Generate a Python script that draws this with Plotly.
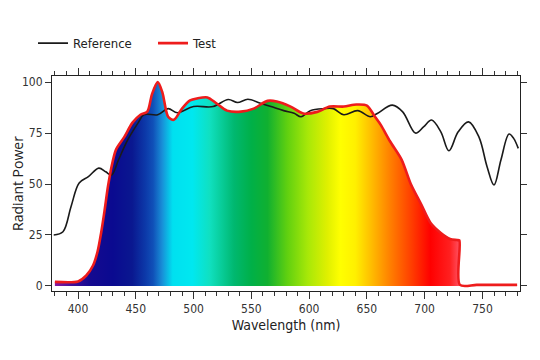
import plotly.graph_objects as go

# Test spectrum (red, filled with spectral gradient)
wl_test = [380, 400, 407, 413, 417, 420, 423, 426, 430, 433, 440, 447, 454, 460, 464, 469, 473, 478, 483, 490,
           497, 503, 512, 520, 529, 541, 552, 564, 572, 584, 595, 607, 618, 630, 641, 650, 657, 662, 670, 680,
           688, 697, 705, 714, 722, 728, 730, 730.5, 745, 765, 780]
test = [2, 2.2, 5, 10, 17, 26, 37, 49, 61, 67, 73, 80, 84, 85.5, 94, 100, 95, 83, 81.5, 87,
        91, 92, 92.5, 89.5, 86, 85.5, 87, 90.8, 90.5, 88, 84.6, 85.4, 88, 88, 89, 88.5, 83, 79, 71, 62,
        50, 40, 31, 26, 23, 22.5, 22.3, 0.5, 0.5, 0.5, 0.5]

# Reference spectrum (black line)
wl_ref = [379, 387, 394, 401, 409, 418, 424, 429, 435, 443, 452, 457, 469, 478, 486, 500, 517, 530, 538, 547,
          558, 567, 578, 587, 593, 601, 613, 621, 630, 642, 653, 659, 672, 681, 692, 699, 706, 714, 721, 729,
          738, 747, 754, 760, 766, 773, 777, 781]
ref = [25, 26.6, 39, 50.5, 53.6, 57.8, 56, 54.4, 61.8, 71.6, 80, 84, 84, 87, 85, 88, 88, 91.5, 90, 91.6,
       89.6, 88, 86, 84.7, 83, 86, 87, 87, 84, 86, 83, 84.6, 88.7, 85.4, 75, 78, 81.4, 75.6, 66.3, 75.6,
       80.5, 73, 58.5, 49.5, 61.8, 74.5, 72.4, 67.5]

# spectral colour stops (wavelength nm, colour)
spec_wl = [380, 395, 410, 430, 447, 458, 465, 473, 482, 499, 514, 535, 550, 564, 581, 599, 616, 627, 640,
           653, 670, 688, 705, 722, 730, 780]
spec_col = ["#8a1aa0", "#40109a", "#150a90", "#0a0a90", "#0a1890", "#0c38a8", "#1050b8", "#1890d8",
            "#00e0f0", "#00e8f0", "#10e0c0", "#00b870", "#00b048", "#10b030", "#60d010", "#a8e808",
            "#e0f000", "#ffff00", "#fff000", "#ffc000", "#ff8000", "#ff4000", "#ff0000", "#ff2020",
            "#ff5060", "#ff5060"]

x0, x1 = spec_wl[0], spec_wl[-1]
colorscale = [[(w - x0) / (x1 - x0), c] for w, c in zip(spec_wl, spec_col)]

fig = go.Figure()
# gradient fill under the test curve
fig.add_trace(go.Scatter(
    x=wl_test, y=test, mode="lines", showlegend=False, hoverinfo="skip",
    line=dict(color="rgba(0,0,0,0)", width=0, shape="spline", smoothing=0.8),
    fill="tozeroy",
    fillgradient=dict(type="horizontal", colorscale=colorscale, start=x0, stop=x1),
))
fig.add_trace(go.Scatter(
    x=wl_ref, y=ref, name="Reference", mode="lines",
    line=dict(color="#1a1a1a", width=1.6, shape="spline", smoothing=1.0),
))
fig.add_trace(go.Scatter(
    x=wl_test, y=test, name="Test", mode="lines",
    line=dict(color="#ee1c1c", width=2.6, shape="spline", smoothing=0.8),
))

cond = "DejaVu Sans Condensed, Liberation Sans Narrow, sans-serif"
tickfont = dict(family=cond, size=12, color="#333333")

fig.update_layout(
    width=532, height=352,
    margin=dict(l=44, r=20, t=68, b=69),
    paper_bgcolor="white", plot_bgcolor="white",
    showlegend=True,
    legend=dict(orientation="h", xref="container", x=0.047, xanchor="left",
                yref="container", y=0.90, yanchor="middle",
                font=dict(family=cond, size=13, color="#222222"),
                entrywidth=75, entrywidthmode="pixels", bgcolor="rgba(0,0,0,0)"),
    xaxis=dict(
        range=[377.5, 782.5], dtick=50, tick0=400, automargin=False,
        ticks="outside", ticklen=7, tickcolor="#333", tickwidth=1,
        minor=dict(dtick=10, ticks="outside", ticklen=4, tickcolor="#333", showgrid=False),
        showline=True, linecolor="#222", linewidth=1, mirror="ticks",
        showgrid=False, zeroline=False, tickfont=tickfont,
        title=dict(text="Wavelength (nm)", standoff=4,
                   font=dict(family=cond, size=14, color="#222222")),
    ),
    yaxis=dict(
        range=[-2.5, 103], dtick=25, tick0=0, automargin=False,
        ticks="outside", ticklen=6, tickcolor="#333", tickwidth=1,
        showline=True, linecolor="#222", linewidth=1, mirror="ticks",
        showgrid=False, zeroline=False, tickfont=tickfont,
        title=dict(text="Radiant Power", standoff=8,
                   font=dict(family="Open Sans, sans-serif", size=14, color="#222222")),
    ),
)

fig.write_html("out.html")
